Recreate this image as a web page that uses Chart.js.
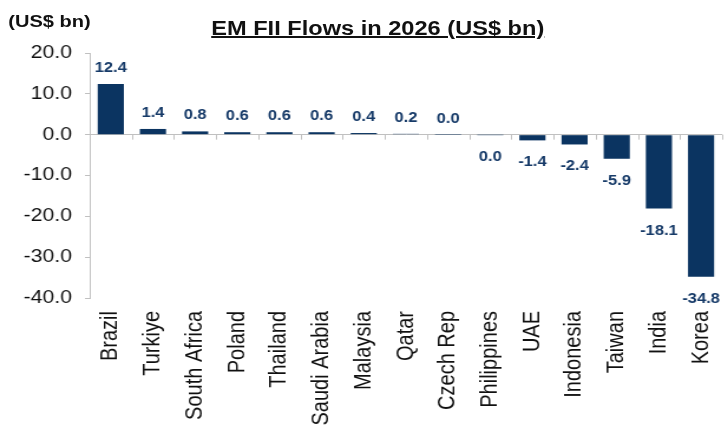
<!DOCTYPE html>
<html>
<head>
<meta charset="utf-8">
<script src="https://cdn.jsdelivr.net/npm/chart.js@4"></script>
<style>
  body { margin: 0; background: #fff; overflow: hidden; }
  /* the reference picture is stretched sideways, so draw narrow and widen it */
  #wrap { position: relative; width: 617px; height: 427px; transform: scale(1.18, 1); transform-origin: 0 0; }
  #unit { position: absolute; left: 7px; top: 12px; font: bold 17px "Liberation Sans", Arial, sans-serif; color: #111; }
  #title { position: absolute; left: 179px; top: 17px; font: bold 20px "Liberation Sans", Arial, sans-serif; color: #111; text-decoration: underline; white-space: nowrap; }
</style>
</head>
<body>
<div id="wrap">
  <canvas id="c" width="617" height="427"></canvas>
  <div id="unit">(US$ bn)</div>
  <div id="title">EM FII Flows in 2026 (US$ bn)</div>
</div>
<script>
// data
var countries = ['Brazil', 'Turkiye', 'South Africa', 'Poland', 'Thailand', 'Saudi Arabia', 'Malaysia',
                 'Qatar', 'Czech Rep', 'Philippines', 'UAE', 'Indonesia', 'Taiwan', 'India', 'Korea'];
var flows = [12.4, 1.4, 0.8, 0.6, 0.6, 0.6, 0.4, 0.2, 0.02, -0.02, -1.4, -2.4, -5.9, -18.1, -34.8];
var yTicks = [20, 10, 0, -10, -20, -30, -40];

var navy = '#0b3461';
var axisGrey = '#c0c0c0';
var font = '"Liberation Sans", Arial, sans-serif';

function fmt(v) {
  if (Math.abs(v) < 0.05) return '0.0';
  return v.toFixed(1);
}

// value labels above / below each bar
var barLabels = {
  id: 'barLabels',
  afterDatasetsDraw: function(chart) {
    var ctx = chart.ctx;
    var meta = chart.getDatasetMeta(0);
    ctx.save();
    ctx.font = 'bold 14px ' + font;
    ctx.fillStyle = '#163a68';
    ctx.textAlign = 'center';
    ctx.textBaseline = 'alphabetic';
    meta.data.forEach(function(bar, i) {
      var v = flows[i];
      if (v >= 0) ctx.fillText(fmt(v), bar.x, bar.y - 12);
      else ctx.fillText(fmt(v), bar.x, bar.y + 26);
    });
    ctx.restore();
  }
};

// small tick marks hanging off the zero line between categories
var zeroTicks = {
  id: 'zeroTicks',
  afterDraw: function(chart) {
    var ctx = chart.ctx;
    var x = chart.scales.x, y = chart.scales.y;
    var y0 = y.getPixelForValue(0);
    var step = x.getPixelForValue(1) - x.getPixelForValue(0);
    ctx.save();
    ctx.strokeStyle = axisGrey;
    ctx.lineWidth = 1;
    ctx.beginPath();
    for (var i = 0; i < countries.length; i++) {
      var px = Math.round(x.getPixelForValue(i) + step / 2) + 0.5;
      ctx.moveTo(px, y0);
      ctx.lineTo(px, y0 + 5);
    }
    ctx.stroke();
    ctx.restore();
  }
};

new Chart(document.getElementById('c'), {
  type: 'bar',
  data: {
    labels: countries,
    datasets: [{
      data: flows,
      backgroundColor: navy,
      categoryPercentage: 1,
      barPercentage: 0.62
    }]
  },
  options: {
    responsive: false,
    animation: false,
    devicePixelRatio: 1,
    layout: { padding: { top: 53, right: 5, left: 9, bottom: 0 } },
    plugins: { legend: { display: false }, tooltip: { enabled: false } },
    scales: {
      x: {
        grid: { display: false, drawTicks: false },
        border: { display: false },
        // long labels run off the bottom edge, as in the picture
        afterFit: function(axis) {
          axis.height = 129;
          axis.paddingLeft = 0;
          axis.paddingRight = 0;
        },
        ticks: {
          minRotation: 90, maxRotation: 90, autoSkip: false, padding: 13,
          color: '#111',
          font: { size: 20, family: font }
        }
      },
      y: {
        min: -40, max: 20,
        afterBuildTicks: function(axis) {
          axis.ticks = yTicks.map(function(v) { return { value: v }; });
        },
        border: { color: axisGrey },
        grid: {
          color: function(c) { return c.tick && c.tick.value === 0 ? axisGrey : 'rgba(0,0,0,0)'; },
          tickColor: axisGrey,
          tickLength: 4
        },
        ticks: {
          padding: 11,
          color: '#111',
          font: { size: 18, family: font },
          callback: function(v) { return Number(v).toFixed(1); }
        }
      }
    }
  },
  plugins: [barLabels, zeroTicks]
});
</script>
</body>
</html>
